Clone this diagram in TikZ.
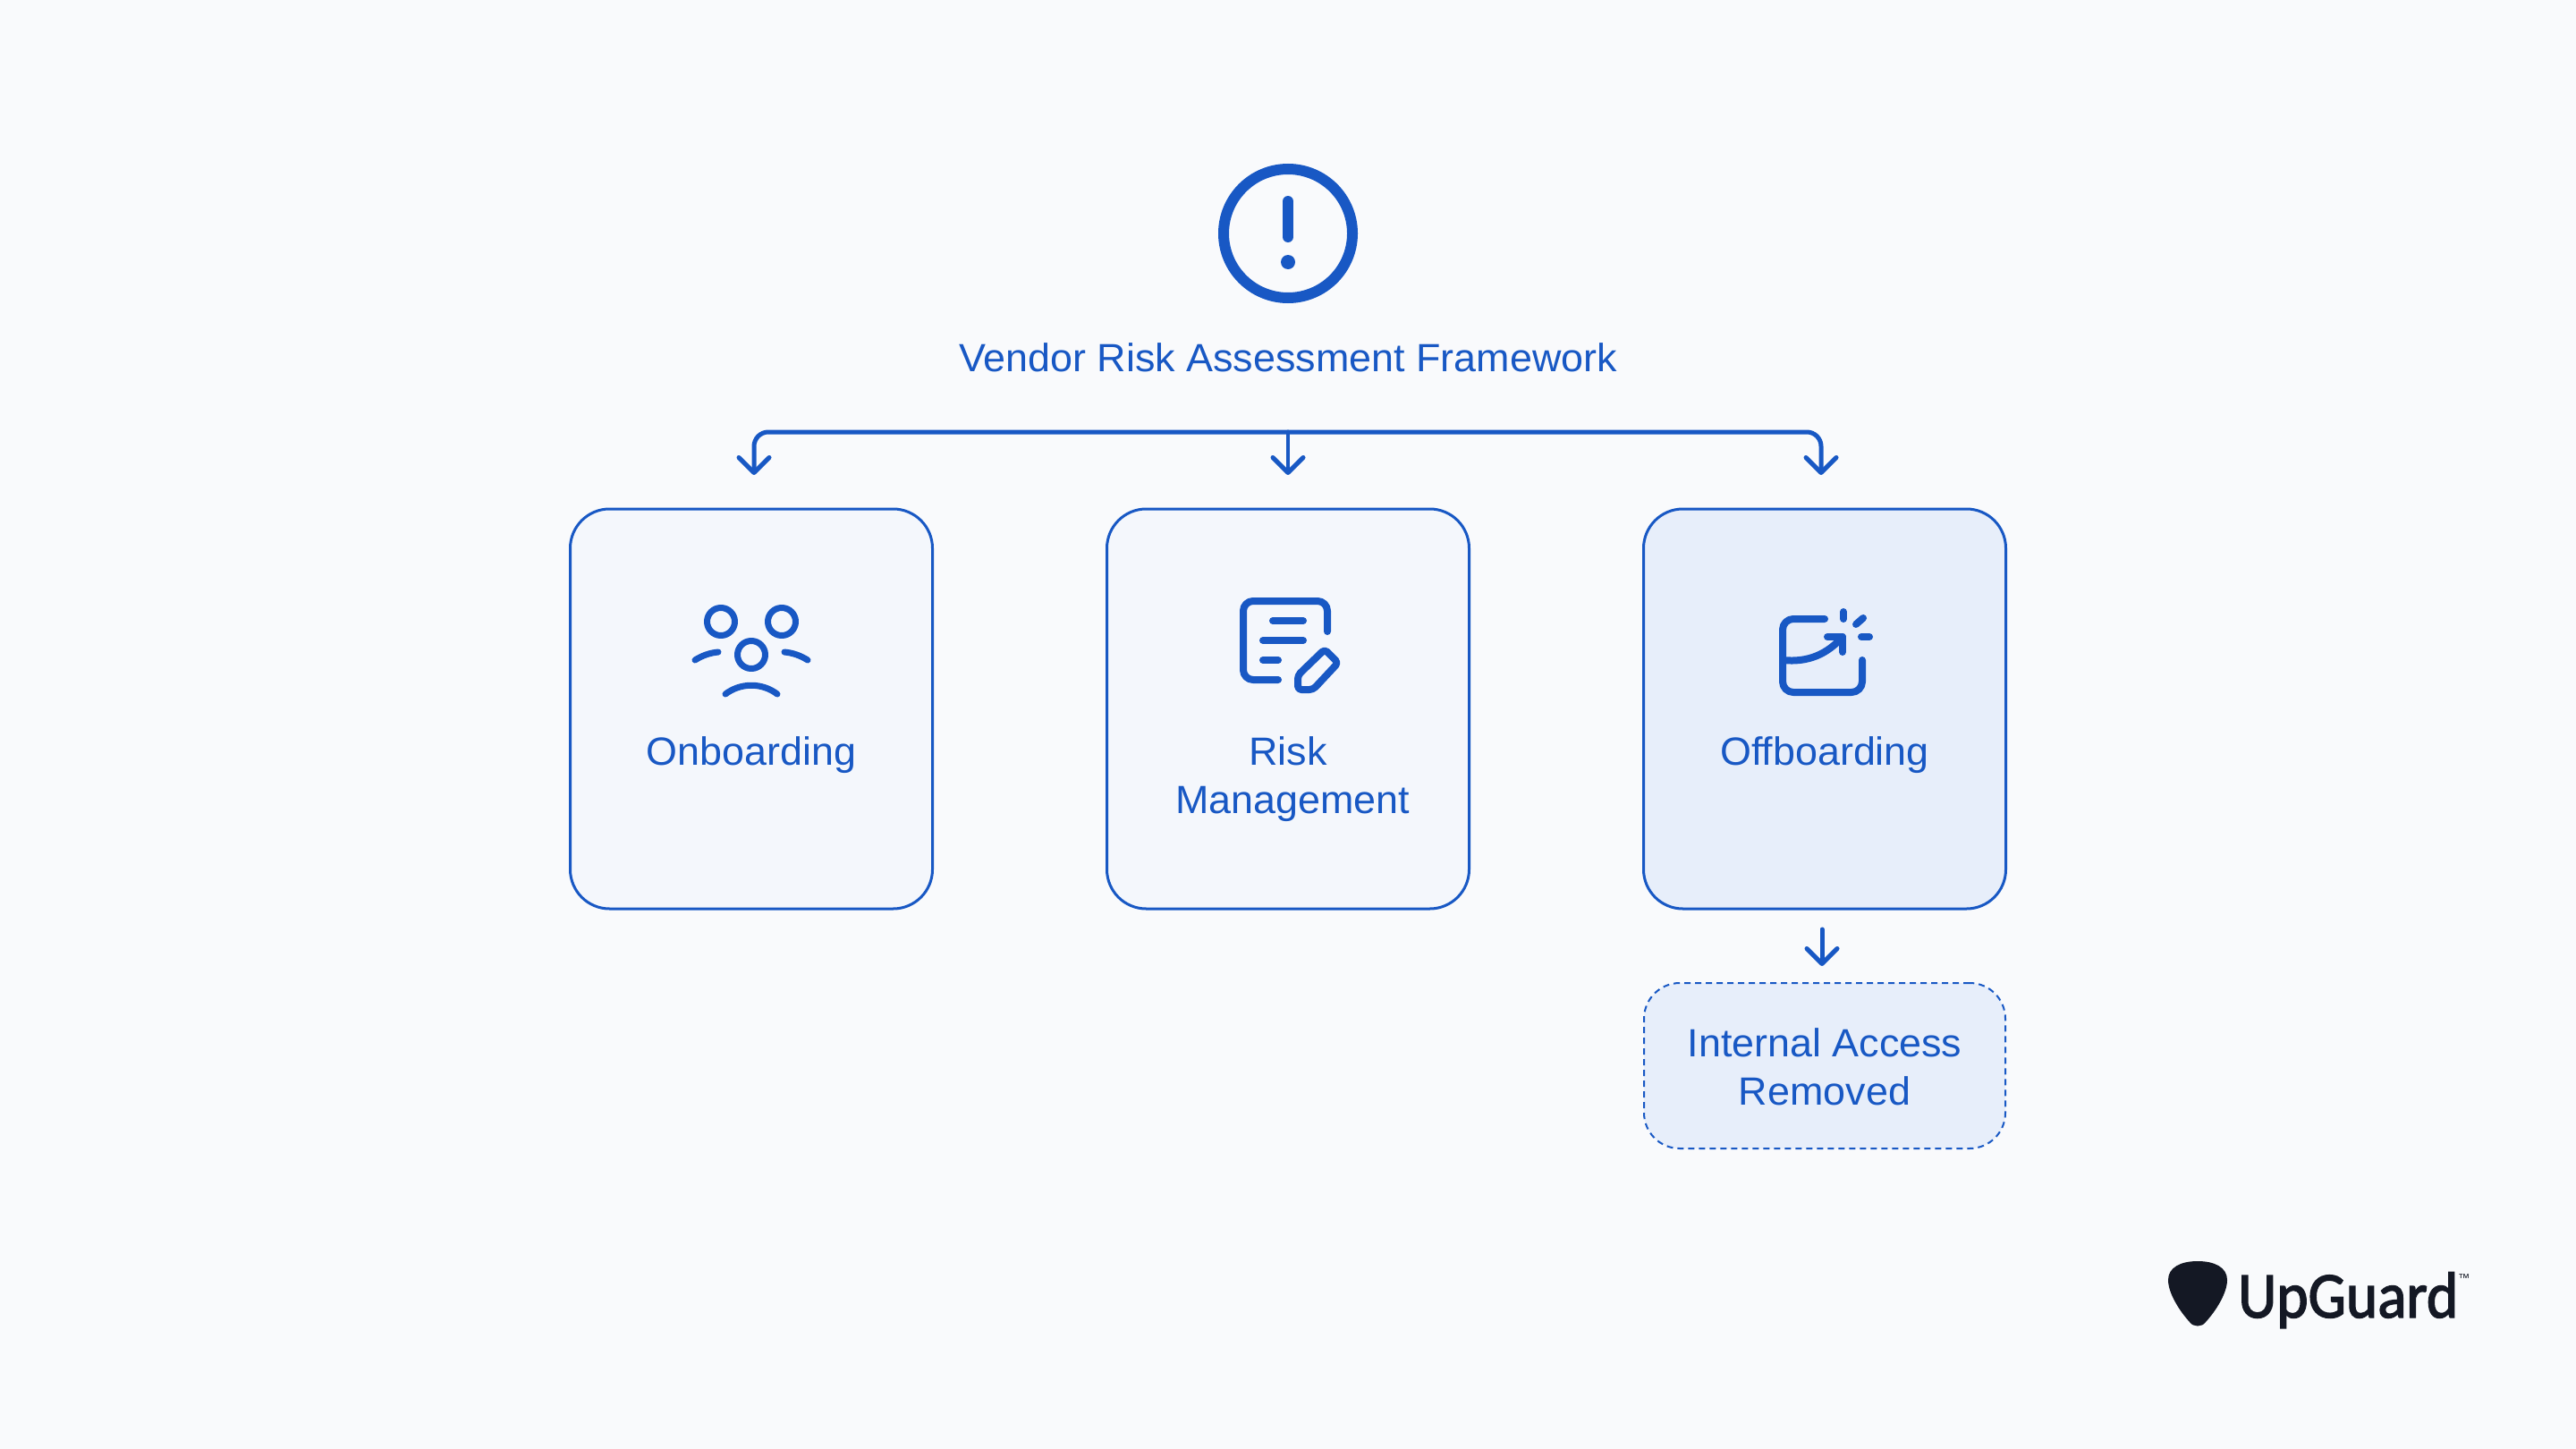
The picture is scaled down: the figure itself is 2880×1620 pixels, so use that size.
\documentclass[tikz,border=0pt]{standalone}
\usepackage{fontspec}
\usetikzlibrary{arrows.meta}
\setmainfont[FakeStretch=1.02]{Liberation Sans}
\newfontfamily\logofont[FakeStretch=0.92,FakeBold=2]{Carlito}
\definecolor{pagebg}{HTML}{F9FAFC}
\definecolor{ink}{HTML}{1858C4}
\definecolor{softfill}{HTML}{F4F7FC}
\definecolor{strongfill}{HTML}{E7EEFA}
\definecolor{logoink}{HTML}{141824}
\tikzset{
  cardbox/.style={draw=ink,line width=3bp,rounded corners=44bp,minimum width=405bp,minimum height=447bp,inner sep=0pt},
  softcard/.style={cardbox,fill=softfill},
  strongcard/.style={cardbox,fill=strongfill},
  dashcard/.style={draw=ink,fill=strongfill,line width=2bp,rounded corners=40bp,minimum width=404bp,minimum height=185bp,inner sep=0pt,dash pattern=on 7bp off 5bp},
  lbl/.style={text=ink,font=\fontsize{44bp}{54bp}\selectfont,inner sep=0pt,anchor=base,align=center},
  flow/.style={draw=ink,line width=5bp,line cap=round,line join=round},
  arrowed/.style={flow,-{Straight Barb[length=17bp,width=34bp,round,line width=5bp]}},
  glyph/.style={draw=ink,line width=8bp,line cap=round,line join=round},
  glyphthin/.style={draw=ink,line width=7bp,line cap=round,line join=round},
}
\begin{document}
\begin{tikzpicture}[x=1bp,y=-1bp]
\useasboundingbox (0,0) rectangle (2880,1620);
\fill[pagebg] (0,0) rectangle (2880,1620);

% alert icon
\node[draw=ink,line width=12bp,circle,minimum size=144bp,inner sep=0pt] (alert) at (1440,261) {};
\draw[ink,line width=12bp,line cap=round] (1440,225) -- (1440,265);
\fill[ink] (1440,293) circle[radius=8];

\node[lbl] (title) at (1440,415) {Vendor Risk Assessment Framework};

% cards
\node[softcard] (cardA) at (840,792.5) {};
\node[softcard] (cardB) at (1440,792.5) {};
\node[strongcard] (cardC) at (2040,792.5) {};
\node[dashcard] (cardD) at (2040,1191.5) {};

\node[lbl] (labA) at (840,855) {Onboarding};
\node[lbl,anchor=south] (labB) at (1445,919) {Risk\hspace*{10bp}\\Management};
\node[lbl] (labC) at (2040,855) {Offboarding};
\node[lbl,anchor=south] (labD) at (2040,1236) {Internal Access\\Removed};

% connectors
\coordinate (busL) at (843,483);
\coordinate (busM) at (1440,483);
\coordinate (busR) at (2036,483);
\coordinate (tipL) at (843,531);
\coordinate (tipM) at (1440,531);
\coordinate (tipR) at (2036,531);
\coordinate (tipD) at (2037,1080);
\coordinate (startD) at (2037,1039);
\draw[arrowed,rounded corners=16bp] (busM) -- (busL) -- (tipL);
\draw[arrowed,rounded corners=16bp] (busM) -- (busR) -- (tipR);
\draw[arrowed,line width=4bp] (busM) -- (tipM);
\draw[arrowed] (startD) -- (tipD);

% people icon
\draw[glyphthin] (806,695) circle[radius=15.5];
\draw[glyphthin] (874,695) circle[radius=15.5];
\draw[glyphthin] (840,732) circle[radius=15.5];
\draw[glyphthin] (777,738) .. controls (785,733) and (793,730) .. (803,729);
\draw[glyphthin] (903,738) .. controls (895,733) and (887,730) .. (877,729);
\draw[glyphthin] (811,776) .. controls (828,763) and (852,763) .. (869,776);

% document and pencil icon
\draw[glyph,rounded corners=11bp] (1484,706) -- (1484,672) -- (1390,672) -- (1390,760) -- (1429,760);
\draw[glyph] (1423,694) -- (1457,694);
\draw[glyph] (1412,716) -- (1457,716);
\draw[glyph] (1412,738) -- (1429,738);
\draw[glyph,rounded corners=4bp] (1451,771) -- (1451,755) -- (1481,726) -- (1496,741) -- (1468,771) -- cycle;

% exit icon
\draw[glyph,rounded corners=12bp] (2040,692) -- (1993,692) -- (1993,774) -- (2082,774) -- (2082,738);
\draw[glyph] (1993,738) .. controls (2022,741) and (2043,731) .. (2060,712);
\draw[glyph] (2043,712) -- (2060,712) -- (2060,729);
\draw[glyph] (2061,684) -- (2061,692);
\draw[glyph] (2075,698) -- (2083,691);
\draw[glyph] (2081,712) -- (2090,712);

% logo
\fill[logoink] (2457,1410) .. controls (2476,1410) and (2490,1417) .. (2490,1431)
  .. controls (2490,1446) and (2477,1466) .. (2466,1478)
  .. controls (2462,1484) and (2452,1484) .. (2448,1478)
  .. controls (2437,1466) and (2424,1446) .. (2424,1431)
  .. controls (2424,1417) and (2438,1410) .. (2457,1410) -- cycle;
\node[inner sep=0pt,anchor=base west,text=logoink,font=\logofont\fontsize{73bp}{73bp}\selectfont] (logo) at (2502,1473) {UpGuard};
\node[inner sep=0pt,anchor=base west,text=logoink,font=\fontsize{13bp}{13bp}\selectfont] (tm) at (2748,1433) {™};
\end{tikzpicture}
\end{document}
